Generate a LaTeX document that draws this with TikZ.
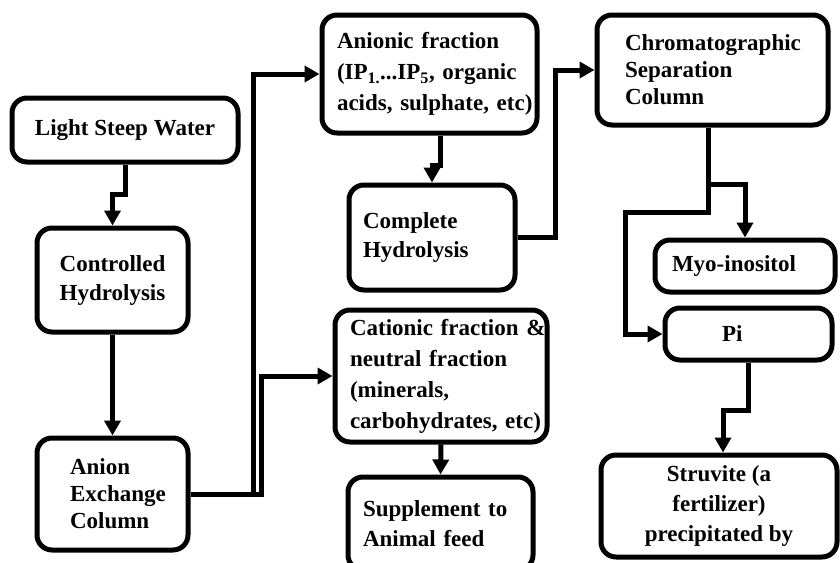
\documentclass[tikz,border=0pt]{standalone}
\usepackage{fontspec}
\setmainfont{Liberation Serif}
\usetikzlibrary{arrows.meta,calc}
\newcommand{\myline}[1]{\mbox{#1}}
\begin{document}
\begin{tikzpicture}[x=1pt,y=-1pt,
  box/.style={draw, line width=5pt, rounded corners=15pt, inner sep=0pt,
    font=\bfseries\fontsize{23}{29}\selectfont, text=black},
  conn/.style={line width=5pt, -{Triangle[length=15pt,width=16pt]}},
  ]
\useasboundingbox (0,0) rectangle (840,562);
\clip (0,0) rectangle (840,562);
\fill[white] (0,0) rectangle (840,562);

\node[box, minimum width=226pt, minimum height=64pt, align=center] (lsw) at (125,130) {Light Steep Water};
\node[box, minimum width=151pt, minimum height=104pt, align=center] (ch) at (112.5,280) {Controlled\\Hydrolysis};
\node[box, minimum width=151pt, minimum height=112pt, text width=85pt, align=left,
  font=\bfseries\fontsize{23}{27}\selectfont] (aec) at (112.5,494) {\myline{Anion}\\\myline{Exchange}\\\myline{Column}};
\node[box, minimum width=215pt, minimum height=118pt, text width=185pt, align=left,
  font=\bfseries\fontsize{23}{31}\selectfont] (af) at (429.5,74)
  {\myline{Anionic fraction}\\\myline{(IP\textsubscript{1.}...IP\textsubscript{5}, organic}\\\myline{acids, sulphate, etc)}};
\node[box, minimum width=166pt, minimum height=105pt, text width=138pt, align=left] (comph) at (432,237.5) {\myline{Complete}\\\myline{Hydrolysis}};
\node[box, minimum width=212pt, minimum height=132pt, text width=182pt, align=left,
  font=\bfseries\fontsize{23}{31}\selectfont] (cf) at (441,376)
  {\myline{Cationic fraction \&}\\\myline{neutral fraction}\\\myline{(minerals,}\\\myline{carbohydrates, etc)}};
\node[box, minimum width=185pt, minimum height=93pt, text width=155pt, align=left,
  font=\bfseries\fontsize{23}{30}\selectfont] (sup) at (440.5,523.5) {\myline{Supplement to}\\\myline{Animal feed}};
\node[box, minimum width=231pt, minimum height=110pt, text width=175pt, align=left,
  font=\bfseries\fontsize{23}{27}\selectfont] (csc) at (712.5,70) {\myline{Chromatographic}\\\myline{Separation}\\\myline{Column}};
\node[box, minimum width=180pt, minimum height=52pt, text width=146pt, align=left] (myo) at (745,266) {\myline{Myo-inositol}};
\node[box, minimum width=167pt, minimum height=52pt, text width=53pt, align=left] (pi) at (748.5,334) {\myline{Pi}};
\node[box, minimum width=236pt, minimum height=102pt, align=center,
  font=\bfseries\fontsize{23}{30}\selectfont] (stv) at (719,506) {Struvite (a\\fertilizer)\\precipitated by};

\draw[conn] (lsw.south) -- ++(0,30) -| (ch.north);
\draw[conn] (ch.south) -- (aec.north);
\draw[conn] (aec.east) -- ++(63,0) |- (af.west);
\draw[conn] (aec.east) -- ++(71,0) |- (cf.west);
\draw[conn] ($(af.south)+(10.5,0)$) -- ++(0,30) -| (comph.north);
\draw[conn] (comph.east) -- ++(38,0) |- (csc.west);
\draw[conn] (cf.south) -- (sup.north);
\draw[conn] ($(csc.south)+(-4.5,0)$) -- ++(0,57) -| (myo.north);
\draw[conn] ($(csc.south)+(-4.5,0)$) -- ++(0,85) -- ++(-83,0) |- (pi.west);
\draw[conn] (pi.south) -- ++(0,48) -| ($(stv.north)+(4,0)$);
\end{tikzpicture}
\end{document}
